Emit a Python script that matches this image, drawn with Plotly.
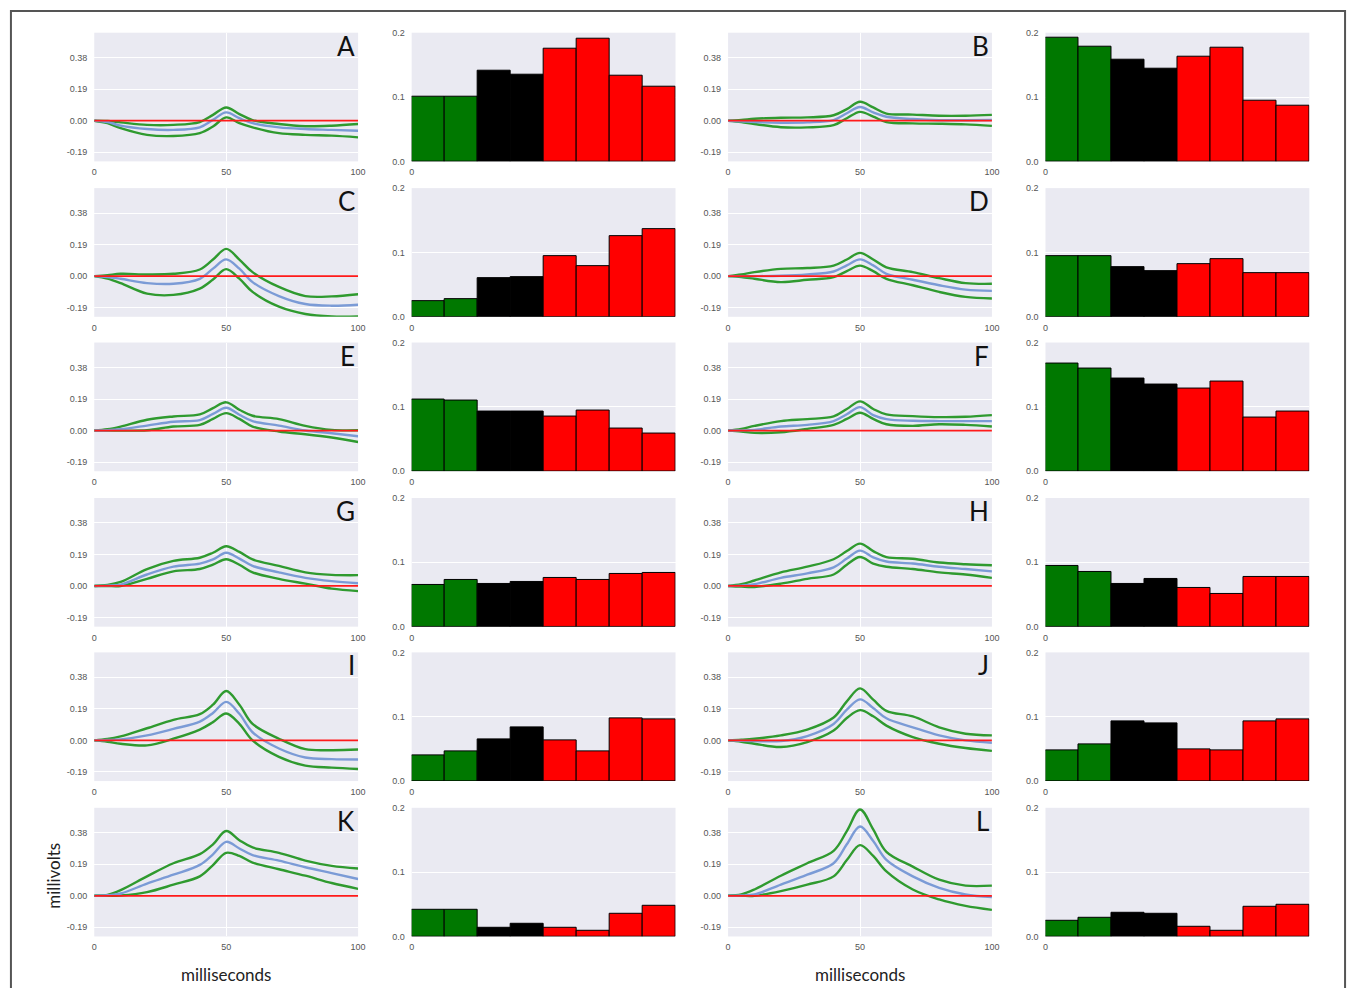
import plotly.graph_objects as go

# ---------------- data ----------------
panel_letters = ["A", "B", "C", "D", "E", "F", "G", "H", "I", "J", "K", "L"]
x_ms = [0, 5, 10, 20, 30, 40, 45, 50, 55, 60, 70, 80, 90, 100]

upper = {
    "A": [0, -0.002, -0.01, -0.025, -0.025, -0.008, 0.035, 0.08, 0.04, 0.004, -0.02, -0.033, -0.03, -0.02],
    "B": [0, 0.004, 0.012, 0.018, 0.02, 0.033, 0.07, 0.114, 0.08, 0.043, 0.037, 0.03, 0.03, 0.035],
    "C": [0, 0.006, 0.014, 0.01, 0.014, 0.04, 0.1, 0.164, 0.1, 0.024, -0.065, -0.12, -0.122, -0.109],
    "D": [0, 0.01, 0.024, 0.044, 0.049, 0.063, 0.1, 0.14, 0.1, 0.053, 0.024, -0.012, -0.042, -0.046],
    "E": [0, 0.008, 0.024, 0.065, 0.085, 0.097, 0.135, 0.17, 0.125, 0.089, 0.069, 0.028, 0.004, 0.002],
    "F": [0, 0.01, 0.028, 0.057, 0.069, 0.085, 0.13, 0.176, 0.13, 0.097, 0.087, 0.081, 0.083, 0.093],
    "G": [0, 0.006, 0.024, 0.102, 0.151, 0.17, 0.2, 0.239, 0.205, 0.16, 0.121, 0.082, 0.067, 0.065],
    "H": [0, 0.01, 0.033, 0.082, 0.116, 0.161, 0.21, 0.255, 0.21, 0.174, 0.164, 0.141, 0.131, 0.125],
    "I": [0, 0.008, 0.024, 0.073, 0.124, 0.158, 0.215, 0.297, 0.215, 0.099, 0.01, -0.053, -0.059, -0.055],
    "J": [0, 0.004, 0.01, 0.03, 0.065, 0.138, 0.235, 0.313, 0.245, 0.178, 0.144, 0.079, 0.04, 0.03],
    "K": [0, 0.006, 0.034, 0.117, 0.196, 0.251, 0.31, 0.39, 0.335, 0.291, 0.259, 0.212, 0.18, 0.164],
    "L": [0, 0.008, 0.038, 0.121, 0.196, 0.271, 0.39, 0.52, 0.4, 0.265, 0.176, 0.097, 0.061, 0.061],
}
mean = {
    "A": [0, -0.008, -0.03, -0.05, -0.055, -0.04, 0.005, 0.05, 0.015, -0.015, -0.04, -0.05, -0.055, -0.06],
    "B": [0, -0.003, -0.008, -0.012, -0.01, 0.004, 0.045, 0.083, 0.05, 0.024, 0.01, 0.003, 0.003, 0.004],
    "C": [0, -0.005, -0.016, -0.042, -0.046, -0.016, 0.045, 0.101, 0.045, -0.036, -0.12, -0.168, -0.178, -0.172],
    "D": [0, 0, 0, 0.002, 0.01, 0.028, 0.065, 0.101, 0.065, 0.014, -0.022, -0.055, -0.081, -0.089],
    "E": [0, 0.002, 0.008, 0.03, 0.053, 0.063, 0.1, 0.137, 0.095, 0.057, 0.03, 0, -0.016, -0.034],
    "F": [0, 0.001, 0.004, 0.024, 0.034, 0.057, 0.098, 0.141, 0.093, 0.069, 0.059, 0.057, 0.057, 0.057],
    "G": [0, 0.002, 0.008, 0.069, 0.116, 0.135, 0.16, 0.2, 0.165, 0.121, 0.082, 0.049, 0.029, 0.016],
    "H": [0, 0.002, 0.01, 0.049, 0.076, 0.112, 0.165, 0.213, 0.172, 0.147, 0.135, 0.116, 0.102, 0.088],
    "I": [0, 0.002, 0.006, 0.03, 0.069, 0.113, 0.165, 0.232, 0.16, 0.049, -0.049, -0.103, -0.113, -0.115],
    "J": [0, -0.002, -0.004, -0.004, 0.026, 0.099, 0.185, 0.247, 0.195, 0.133, 0.079, 0.03, 0, -0.014],
    "K": [0, 0.003, 0.014, 0.073, 0.127, 0.186, 0.25, 0.325, 0.285, 0.245, 0.212, 0.172, 0.137, 0.101],
    "L": [0, 0.002, 0.008, 0.067, 0.127, 0.196, 0.31, 0.417, 0.33, 0.216, 0.117, 0.048, 0.008, -0.008],
}
lower = {
    "A": [0, -0.015, -0.045, -0.085, -0.092, -0.075, -0.035, 0.02, -0.015, -0.04, -0.075, -0.085, -0.09, -0.1],
    "B": [0, -0.008, -0.02, -0.039, -0.04, -0.027, 0.015, 0.053, 0.025, -0.008, -0.016, -0.018, -0.022, -0.031],
    "C": [0, -0.015, -0.042, -0.105, -0.113, -0.075, -0.02, 0.042, -0.015, -0.095, -0.184, -0.228, -0.243, -0.243],
    "D": [0, -0.006, -0.016, -0.036, -0.022, -0.006, 0.03, 0.063, 0.03, -0.016, -0.055, -0.095, -0.125, -0.135],
    "E": [0, 0, 0, 0.002, 0.024, 0.034, 0.07, 0.105, 0.07, 0.024, -0.006, -0.022, -0.042, -0.069],
    "F": [0, -0.006, -0.014, -0.01, 0.01, 0.034, 0.07, 0.107, 0.07, 0.038, 0.028, 0.038, 0.034, 0.024],
    "G": [0, 0, 0, 0.043, 0.088, 0.102, 0.128, 0.161, 0.128, 0.082, 0.043, 0.014, -0.016, -0.031],
    "H": [0, -0.004, -0.006, 0.014, 0.043, 0.069, 0.128, 0.174, 0.135, 0.116, 0.102, 0.082, 0.069, 0.049],
    "I": [0, -0.008, -0.02, -0.03, 0.01, 0.065, 0.11, 0.162, 0.1, 0, -0.099, -0.152, -0.164, -0.172],
    "J": [0, -0.008, -0.02, -0.04, -0.01, 0.059, 0.135, 0.182, 0.145, 0.089, 0.02, -0.02, -0.046, -0.063],
    "K": [0, 0, 0.002, 0.022, 0.067, 0.117, 0.185, 0.259, 0.24, 0.2, 0.16, 0.121, 0.077, 0.042],
    "L": [0, 0, 0, 0.028, 0.067, 0.117, 0.215, 0.305, 0.24, 0.147, 0.038, -0.022, -0.061, -0.085],
}

bar_colors = ["#007800", "#007800", "#000000", "#000000", "#ff0000", "#ff0000", "#ff0000", "#ff0000"]
bars = {
    "A": [0.100, 0.100, 0.1415, 0.134, 0.1756, 0.1907, 0.1337, 0.1166],
    "B": [0.1927, 0.1788, 0.158, 0.144, 0.162, 0.1767, 0.0943, 0.086],
    "C": [0.0244, 0.028, 0.0597, 0.0618, 0.0945, 0.079, 0.126, 0.136],
    "D": [0.0945, 0.0945, 0.077, 0.0717, 0.0826, 0.0904, 0.0675, 0.0675],
    "E": [0.1118, 0.1097, 0.0923, 0.0923, 0.0856, 0.0938, 0.0656, 0.059],
    "F": [0.1667, 0.159, 0.1446, 0.1354, 0.128, 0.1395, 0.083, 0.0923],
    "G": [0.065, 0.073, 0.066, 0.07, 0.076, 0.072, 0.082, 0.084],
    "H": [0.094, 0.0845, 0.066, 0.074, 0.0596, 0.0513, 0.078, 0.078],
    "I": [0.0404, 0.0466, 0.065, 0.083, 0.0627, 0.0466, 0.098, 0.0958],
    "J": [0.047, 0.057, 0.092, 0.090, 0.050, 0.048, 0.093, 0.0958],
    "K": [0.0416, 0.0416, 0.0135, 0.0197, 0.013, 0.0088, 0.036, 0.047],
    "L": [0.024, 0.0296, 0.0364, 0.0353, 0.0145, 0.0088, 0.0468, 0.050],
}
bar_x = [0.5, 1.5, 2.5, 3.5, 4.5, 5.5, 6.5, 7.5]

line_yticks = [-0.19, 0.0, 0.19, 0.38]
line_ytext = ["-0.19", "0.00", "0.19", "0.38"]
line_xticks = [0, 50, 100]
bar_yticks = [0.0, 0.1, 0.2]
bar_ytext = ["0.0", "0.1", "0.2"]

# ---------------- layout geometry (pixels) ----------------
W, H = 1360, 988
col_px = [(92, 358), (412, 678), (731, 997), (1051, 1317)]
row_top = [28, 185, 341, 498, 654, 811]
row_h = 130

BG = "#EAEAF2"
TICKFONT = dict(family="Liberation Sans, Arial, sans-serif", size=9, color="#555555")
GREEN_LINE = "#2f9a2f"
BLUE_LINE = "#7b9bd6"
RED_LINE = "#ff1a1a"

fig = go.Figure()
layout = dict()
annotations = []
axis_n = 0

def dom_x(c):
    a, b = col_px[c]
    return [a / W, b / W]

def dom_y(r):
    t = row_top[r]
    return [1 - (t + row_h) / H, 1 - t / H]

for i, letter in enumerate(panel_letters):
    r = i // 2
    lc = (i % 2) * 2      # line column
    bc = lc + 1           # bar column

    # ---- line panel ----
    axis_n += 1
    xa = "x" if axis_n == 1 else f"x{axis_n}"
    ya = "y" if axis_n == 1 else f"y{axis_n}"
    xk = "xaxis" if axis_n == 1 else f"xaxis{axis_n}"
    yk = "yaxis" if axis_n == 1 else f"yaxis{axis_n}"
    for ys, col in ((upper[letter], GREEN_LINE), (lower[letter], GREEN_LINE), (mean[letter], BLUE_LINE)):
        fig.add_trace(go.Scatter(x=x_ms, y=ys, mode="lines", xaxis=xa, yaxis=ya,
                                 line=dict(color=col, width=2.4, shape="spline", smoothing=1.0),
                                 showlegend=False, hoverinfo="skip"))
    fig.add_trace(go.Scatter(x=[0, 100], y=[0, 0], mode="lines", xaxis=xa, yaxis=ya,
                             line=dict(color=RED_LINE, width=1.8), showlegend=False, hoverinfo="skip"))
    layout[xk] = dict(domain=dom_x(lc), anchor=ya, range=[0, 100], tickvals=line_xticks,
                      ticktext=[str(v) for v in line_xticks], showgrid=True, gridcolor="white",
                      gridwidth=1.3, zeroline=False, showline=False, ticks="", tickfont=TICKFONT,
                      ticklabelstandoff=4)
    layout[yk] = dict(domain=dom_y(r), anchor=xa, range=[-0.245, 0.53], tickvals=line_yticks,
                      ticktext=line_ytext, showgrid=True, gridcolor="white", gridwidth=1.3,
                      zeroline=False, showline=False, ticks="", tickfont=TICKFONT,
                      ticklabelstandoff=6)
    annotations.append(dict(text=letter, xref="paper", yref="paper",
                            x=(col_px[lc][1] - 1) / W, y=1 - (row_top[r] - 5) / H,
                            xanchor="right", yanchor="top", showarrow=False,
                            font=dict(family="Lato, Open Sans, sans-serif", size=26, color="#111111")))

    # ---- bar panel ----
    axis_n += 1
    xa = f"x{axis_n}"
    ya = f"y{axis_n}"
    xk = f"xaxis{axis_n}"
    yk = f"yaxis{axis_n}"
    fig.add_trace(go.Bar(x=bar_x, y=bars[letter], width=1.0, xaxis=xa, yaxis=ya,
                         marker=dict(color=bar_colors, line=dict(color="#000000", width=1)),
                         showlegend=False, hoverinfo="skip"))
    layout[xk] = dict(domain=dom_x(bc), anchor=ya, range=[0, 8], tickvals=[0], ticktext=["0"],
                      showgrid=False, zeroline=False, showline=False, ticks="", tickfont=TICKFONT,
                      ticklabelstandoff=4)
    layout[yk] = dict(domain=dom_y(r), anchor=xa, range=[0, 0.2], tickvals=bar_yticks,
                      ticktext=bar_ytext, showgrid=True, gridcolor="white", gridwidth=1.3,
                      zeroline=False, showline=False, ticks="", tickfont=TICKFONT,
                      ticklabelstandoff=6)

# axis titles
TITLEFONT = dict(family="Lato, Open Sans, sans-serif", size=17, color="#222222")
annotations.append(dict(text="milliseconds", xref="paper", yref="paper", x=225 / W, y=1 - 979 / H,
                        xanchor="center", yanchor="middle", showarrow=False, font=TITLEFONT))
annotations.append(dict(text="milliseconds", xref="paper", yref="paper", x=864 / W, y=1 - 979 / H,
                        xanchor="center", yanchor="middle", showarrow=False, font=TITLEFONT))
annotations.append(dict(text="millivolts", xref="paper", yref="paper", x=50 / W, y=1 - 880 / H,
                        xanchor="center", yanchor="middle", showarrow=False, textangle=-90,
                        font=TITLEFONT))

shapes = [dict(type="rect", xref="paper", yref="paper", x0=8 / W, x1=1353 / W, y0=-0.02, y1=1 - 6 / H,
               line=dict(color="#555555", width=2), fillcolor="rgba(0,0,0,0)", layer="below")]

fig.update_layout(**layout)
fig.update_layout(width=W, height=H, margin=dict(l=0, r=0, t=0, b=0),
                  paper_bgcolor="white", plot_bgcolor=BG, bargap=0,
                  annotations=annotations, shapes=shapes, showlegend=False)

fig.write_html("out.html", config={"displayModeBar": False},
               post_script="document.body.style.margin='0';document.body.style.overflow='hidden';")
